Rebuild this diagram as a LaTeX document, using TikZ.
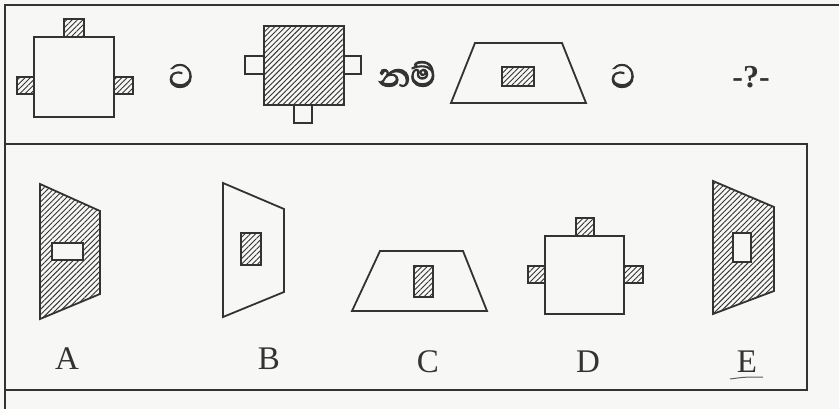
\documentclass[tikz,border=0pt]{standalone}
\usepackage{fontspec}
\setmainfont{Liberation Serif}
\newfontfamily\sinhala[Script=Sinhala,FakeBold=2.5]{Abhaya Libre}
\usetikzlibrary{patterns.meta}
\definecolor{ink}{HTML}{333333}
\definecolor{paper}{HTML}{F7F7F5}
\tikzset{
  shp/.style={draw=ink,line width=1.8pt,line join=miter},
  hatch/.style={shp,pattern={Lines[angle=45,distance=3.8pt,line width=0.9pt]},pattern color=ink},
  blank/.style={shp,fill=paper},
  frame/.style={draw=ink,line width=1.6pt},
  sin/.style={text=ink,font=\sinhala\fontsize{42}{42}\selectfont,inner sep=0pt},
  lab/.style={text=ink,font=\fontsize{33}{33}\selectfont,inner sep=0pt},
}
\begin{document}
\begin{tikzpicture}[x=1pt,y=-1pt]
\fill[paper] (0,0) rectangle (839,409);
\useasboundingbox (0,0) rectangle (839,409);
% frames
\coordinate (ftl) at (5,5);
\coordinate (ftr) at (839,5);
\coordinate (fbl) at (5,409);
\draw[frame] (ftr) -- (ftl) -- (fbl);
\draw[frame] (5,144) rectangle (807,390);
% ---- question row ----
% figure 1
\draw[blank] (34,37) rectangle (114,117);
\draw[hatch] (64,19) rectangle (84,37);
\draw[hatch] (17,77) rectangle (34,94);
\draw[hatch] (114,77) rectangle (133,94);
\node[sin] (t1) at (181,76) {ට};
% figure 2
\draw[hatch] (264,26) rectangle (344,105);
\draw[blank] (245,56) rectangle (264,74);
\draw[blank] (344,56) rectangle (361,74);
\draw[blank] (294,105) rectangle (312,123);
\node[sin] (nam) at (407,74) {නම්};
% figure 3
\draw[blank] (475,43) -- (562,43) -- (586,103) -- (451,103) -- cycle;
\draw[hatch] (502,67) rectangle (534,86);
\node[sin] (t2) at (623,76) {ට};
\node[text=ink,font=\bfseries\fontsize{32}{32}\selectfont,inner sep=0pt] (q) at (751,77) {-?-};
% ---- options ----
% A
\draw[hatch] (40,184) -- (100,211) -- (100,294) -- (40,319) -- cycle;
\draw[blank] (52,243) rectangle (83,260);
\node[lab] (la) at (67,359) {A};
% B
\draw[blank] (223,183) -- (284,209) -- (284,292) -- (223,317) -- cycle;
\draw[hatch] (241,233) rectangle (261,265);
\node[lab] (lb) at (269,359) {B};
% C
\draw[blank] (380,251) -- (463,251) -- (487,311) -- (352,311) -- cycle;
\draw[hatch] (414,266) rectangle (433,297);
\node[lab] (lc) at (428,362) {C};
% D
\draw[blank] (545,236) rectangle (624,314);
\draw[hatch] (576,218) rectangle (594,236);
\draw[hatch] (528,266) rectangle (545,283);
\draw[hatch] (624,266) rectangle (643,283);
\node[lab] (ld) at (588,362) {D};
% E
\draw[hatch] (713,181) -- (774,207) -- (774,291) -- (713,314) -- cycle;
\draw[blank] (733,233) rectangle (751,262);
\node[lab] (le) at (747,362) {E};
\coordinate (u1) at (730,379);
\coordinate (u2) at (763,377);
\draw[ink!80,line width=1pt] (u1) .. controls (745,377) .. (u2);
\end{tikzpicture}
\end{document}
